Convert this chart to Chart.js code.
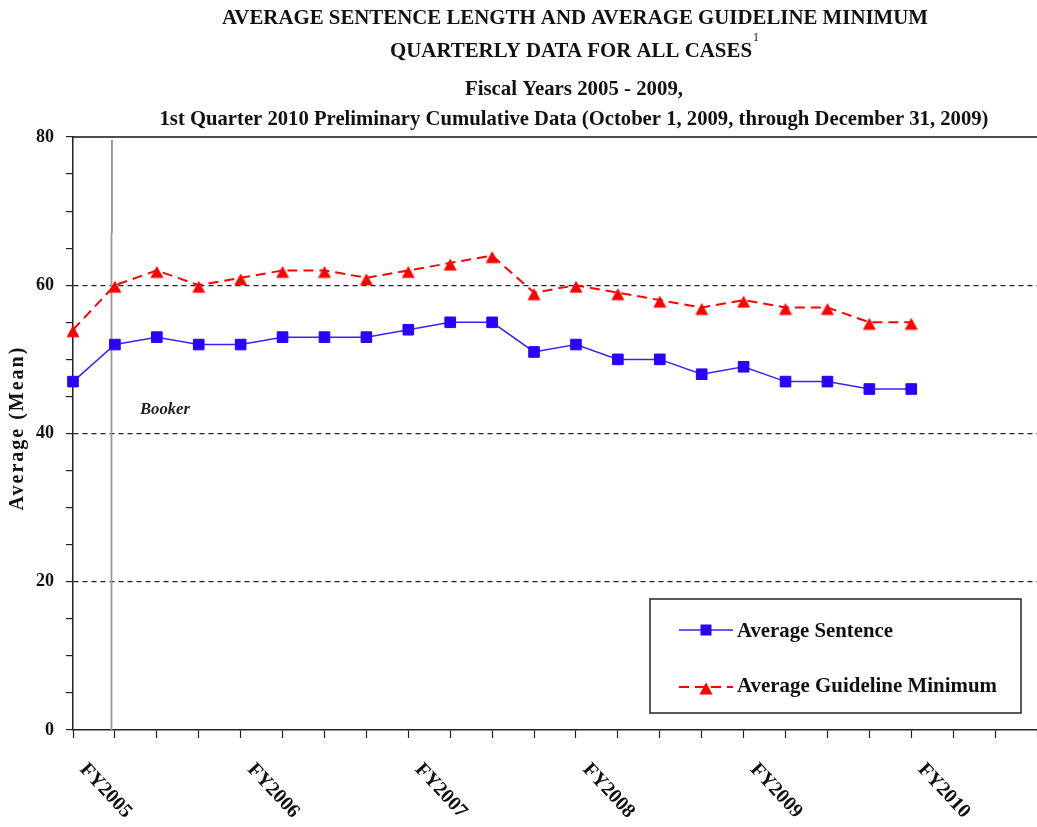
<!DOCTYPE html>
<html>
<head>
<meta charset="utf-8">
<title>Average Sentence Length and Average Guideline Minimum</title>
<script src="https://cdn.jsdelivr.net/npm/chart.js@4.4.1/dist/chart.umd.min.js"></script>
<style>
  html, body { margin: 0; padding: 0; background: #fff; }
  #wrap { width: 1037px; height: 827px; }
</style>
</head>
<body>
<div id="wrap"><canvas id="chart" width="1037" height="827"></canvas></div>
<script>
// fiscal quarters on the x axis (FY2005 Q1 .. FY2010 Q4)
const quarters = [
  "FY2005 Q1", "FY2005 Q2", "FY2005 Q3", "FY2005 Q4",
  "FY2006 Q1", "FY2006 Q2", "FY2006 Q3", "FY2006 Q4",
  "FY2007 Q1", "FY2007 Q2", "FY2007 Q3", "FY2007 Q4",
  "FY2008 Q1", "FY2008 Q2", "FY2008 Q3", "FY2008 Q4",
  "FY2009 Q1", "FY2009 Q2", "FY2009 Q3", "FY2009 Q4",
  "FY2010 Q1", "FY2010 Q2", "FY2010 Q3", "FY2010 Q4"
];
const fyLabels = ["FY2005", "FY2006", "FY2007", "FY2008", "FY2009", "FY2010"];

// averages in months
const avgSentence = [47, 52, 53, 52, 52, 53, 53, 53, 54, 55, 55, 51, 52, 50, 50, 48, 49, 47, 47, 46, 46];
const avgGuidelineMin = [54, 60, 62, 60, 61, 62, 62, 61, 62, 63, 64, 59, 60, 59, 58, 57, 58, 57, 57, 55, 55];

const yLabelValues = [0, 20, 40, 60, 80];
const yGridValues = [20, 40, 60];

// Booker decision (Jan 2005), just before the 2nd quarter of FY2005
const bookerPos = 0.93;

const FONT = '"Liberation Serif", "Times New Roman", serif';

// red triangle marker, sitting a bit below its point like in the original
function makeTriangle(color) {
  const c = document.createElement("canvas");
  c.width = 14;
  c.height = 22;
  const g = c.getContext("2d");
  g.fillStyle = color;
  g.beginPath();
  g.moveTo(7, 6.5);
  g.lineTo(13.5, 18.5);
  g.lineTo(0.5, 18.5);
  g.closePath();
  g.fill();
  return c;
}
const redTriangle = makeTriangle("#ff0000");

// text squeezed/stretched to the width it has in the original
function fitText(ctx, text, x, y, size, width, opts) {
  opts = opts || {};
  ctx.save();
  ctx.font = (opts.style || "") + " " + (opts.weight || "bold") + " " + size + "px " + FONT;
  if (opts.spacing) ctx.letterSpacing = opts.spacing;
  ctx.fillStyle = opts.color || "#111";
  ctx.textBaseline = "alphabetic";
  ctx.textAlign = "center";
  ctx.translate(x, y);
  if (opts.rotate) ctx.rotate(opts.rotate);
  if (width) ctx.scale(width / ctx.measureText(text).width, 1);
  ctx.fillText(text, 0, 0);
  ctx.restore();
}

const titlePlugin = {
  id: "titles",
  afterDraw(chart) {
    const ctx = chart.ctx;
    fitText(ctx, "AVERAGE SENTENCE LENGTH AND AVERAGE GUIDELINE MINIMUM", 575, 24, 20, 706);
    fitText(ctx, "QUARTERLY DATA FOR ALL CASES", 571, 57, 21, 362);
    fitText(ctx, "1", 756, 41, 12, 0, { weight: "normal" });
    fitText(ctx, "Fiscal Years 2005 - 2009,", 574, 95, 22, 218);
    fitText(ctx, "1st Quarter 2010 Preliminary Cumulative Data (October 1, 2009, through December 31, 2009)", 574, 125, 22, 829);

    // y axis title
    fitText(ctx, "Average (Mean)", 23, 428, 20, 0, { rotate: -Math.PI / 2, spacing: "2px" });

    // top edge of the plot at 80
    const area = chart.chartArea;
    const yTop = chart.scales.y.getPixelForValue(80);
    ctx.save();
    ctx.strokeStyle = "#111";
    ctx.lineWidth = 1.5;
    ctx.beginPath();
    ctx.moveTo(area.left, yTop);
    ctx.lineTo(area.right, yTop);
    ctx.stroke();
    ctx.restore();

    // fiscal year labels, turned down to the right
    const xs = chart.scales.x;
    ctx.save();
    ctx.font = "bold 20px " + FONT;
    ctx.fillStyle = "#111";
    ctx.textAlign = "left";
    ctx.textBaseline = "alphabetic";
    fyLabels.forEach(fy => {
      const i = quarters.indexOf(fy + " Q1");
      const px = xs.getPixelForValue(i);
      ctx.save();
      ctx.translate(px + 6, area.bottom + 40);
      ctx.rotate(47 * Math.PI / 180);
      ctx.fillText(fy, 0, 0);
      ctx.restore();
    });
    ctx.restore();

    // legend box
    ctx.save();
    ctx.fillStyle = "#fff";
    ctx.fillRect(650, 599, 371, 114);
    ctx.strokeStyle = "#222";
    ctx.lineWidth = 1.5;
    ctx.strokeRect(650, 599, 371, 114);
    const rows = [
      { ds: chart.data.datasets[0], y: 630, base: 637, width: 156 },
      { ds: chart.data.datasets[1], y: 687, base: 692, width: 260 }
    ];
    rows.forEach(r => {
      ctx.save();
      ctx.strokeStyle = r.ds.borderColor;
      ctx.lineWidth = r.ds.borderWidth;
      ctx.setLineDash(r.ds.borderDash || []);
      ctx.beginPath();
      ctx.moveTo(679, r.y);
      ctx.lineTo(733, r.y);
      ctx.stroke();
      ctx.setLineDash([]);
      ctx.fillStyle = r.ds.pointBackgroundColor;
      if (r.ds.pointStyle === redTriangle) {
        ctx.drawImage(redTriangle, 699, r.y - 11);
      } else {
        ctx.fillRect(700.5, r.y - 5.5, 11, 11);
      }
      ctx.restore();
      ctx.save();
      ctx.font = "bold 21px " + FONT;
      ctx.fillStyle = "#111";
      ctx.textAlign = "left";
      ctx.translate(737, r.base);
      ctx.scale(r.width / ctx.measureText(r.ds.label).width, 1);
      ctx.fillText(r.ds.label, 0, 0);
      ctx.restore();
    });
    ctx.restore();
  },
  beforeDatasetsDraw(chart) {
    const ctx = chart.ctx;
    const area = chart.chartArea;
    const bx = chart.scales.x.getPixelForValue(bookerPos);
    ctx.save();
    ctx.strokeStyle = "#333";
    ctx.lineWidth = 1;
    ctx.beginPath();
    ctx.moveTo(bx, 140);
    ctx.lineTo(bx, 233);
    ctx.stroke();
    ctx.strokeStyle = "#999";
    ctx.lineWidth = 1.8;
    ctx.beginPath();
    ctx.moveTo(bx - 0.5, 233);
    ctx.lineTo(bx - 0.5, area.bottom);
    ctx.stroke();
    ctx.restore();
    fitText(ctx, "Booker", 165, 414, 16, 50, { style: "italic", color: "#222" });
  }
};

new Chart(document.getElementById("chart"), {
  type: "line",
  data: {
    labels: quarters,
    datasets: [
      {
        label: "Average Sentence",
        data: avgSentence,
        borderColor: "#3a22ff",
        borderWidth: 1.5,
        pointStyle: "rect",
        pointRadius: 7.5,
        pointBorderWidth: 1,
        pointBackgroundColor: "#2a00ff",
        pointBorderColor: "#2a00ff",
        tension: 0
      },
      {
        label: "Average Guideline Minimum",
        data: avgGuidelineMin,
        borderColor: "#ff0000",
        borderWidth: 2,
        borderDash: [10, 6],
        pointStyle: redTriangle,
        pointBackgroundColor: "#ff0000",
        pointBorderColor: "#ff0000",
        tension: 0
      }
    ]
  },
  options: {
    responsive: false,
    animation: false,
    layout: { autoPadding: false, padding: { top: 137, right: 0, left: 0, bottom: 0 } },
    plugins: {
      legend: { display: false },
      title: { display: false },
      tooltip: { enabled: false }
    },
    scales: {
      x: {
        type: "category",
        offset: false,
        ticks: { display: false },
        grid: { drawOnChartArea: false, drawTicks: true, tickLength: 8, tickColor: "#222", tickWidth: 1.2 },
        border: { color: "#222", width: 1.5 },
        afterFit(scale) { scale.height = 97; }
      },
      y: {
        min: 0,
        max: 80,
        ticks: {
          stepSize: 5,
          maxTicksLimit: 20,
          padding: 12,
          color: "#111",
          font: { family: FONT, size: 18, weight: "bold" },
          callback: v => (yLabelValues.includes(v) ? v : "")
        },
        grid: {
          color: c => (yGridValues.includes(c.tick.value) ? "#222" : "rgba(0,0,0,0)"),
          lineWidth: 1.2,
          tickLength: 7,
          tickColor: "#222",
          tickWidth: 1.2
        },
        border: { color: "#222", width: 1.5, dash: [5, 4] },
        afterFit(scale) { scale.width = 73; }
      }
    }
  },
  plugins: [titlePlugin]
});
</script>
</body>
</html>
